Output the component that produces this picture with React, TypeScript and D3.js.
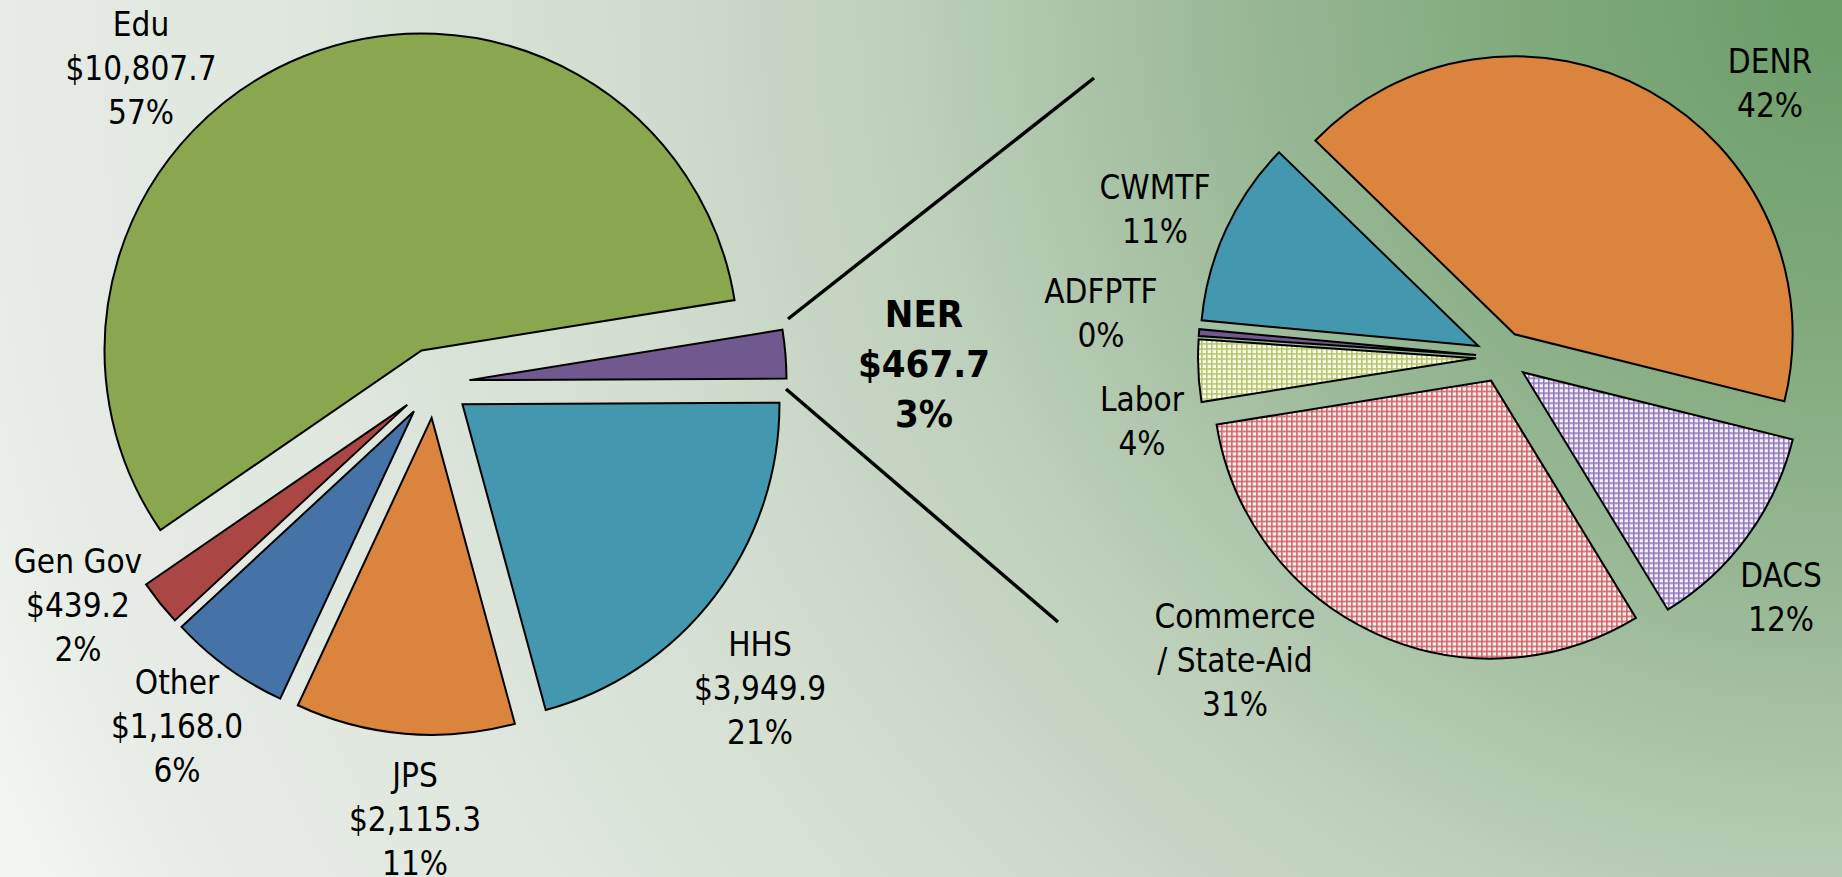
import React from "react";
import * as d3 from "d3";

const W = 1842;
const H = 877;

// ---- Data ----
const mainCategories = ["Edu", "NER", "HHS", "JPS", "Other", "Gen Gov"];
const mainValues = [10807.7, 467.7, 3949.9, 2115.3, 1168.0, 439.2];
const mainPctLabels = ["57%", "3%", "21%", "11%", "6%", "2%"];
const mainColors = ["#8AA64E", "#71588F", "#4398AF", "#DB843D", "#4572A7", "#AA4643"];

const nerCategories = ["DENR", "DACS", "Commerce / State-Aid", "Labor", "ADFPTF", "CWMTF"];
const nerShares = [41.6, 12.4, 31.2, 3.6, 0.4, 10.8];
const nerFills = ["#DB843D", "url(#gridPurple)", "url(#gridRed)", "url(#gridYellow)", "#71588F", "#4398AF"];

// ---- Layout ----
const FONT = "'DejaVu Sans Condensed', 'DejaVu Sans', sans-serif";
const LINE = 44;
const mainPie = { cx: 434.6, cy: 383, r: 317, explode: 35, start: 235.5 };
const nerPie = { cx: 1502, cy: 357, r: 278, explode: 26, start: 314.2 };
const mainLabelPos: Record<string, [number, number]> = {
  Edu: [141, 36],
  NER: [924, 327],
  HHS: [760, 656],
  JPS: [415, 787],
  Other: [177, 694],
  "Gen Gov": [78, 573],
};
const nerLabelPos: Record<string, [number, number]> = {
  DENR: [1770, 73],
  DACS: [1781, 587],
  "Commerce / State-Aid": [1235, 628],
  Labor: [1142, 411],
  ADFPTF: [1101, 303],
  CWMTF: [1155, 199],
};
const connectors = [
  [[788, 319], [1094, 78]],
  [[786, 389], [1058, 622]],
];

const deg = Math.PI / 180;

function explodedArcs(values: number[], cfg: typeof mainPie) {
  const pie = d3
    .pie<number>()
    .sort(null)
    .value((d) => d)
    .startAngle(cfg.start * deg)
    .endAngle(cfg.start * deg + 2 * Math.PI);
  const arc = d3.arc<d3.PieArcDatum<number>>().innerRadius(0).outerRadius(cfg.r);
  return pie(values).map((a) => {
    const mid = (a.startAngle + a.endAngle) / 2;
    const dx = cfg.cx + cfg.explode * Math.sin(mid);
    const dy = cfg.cy - cfg.explode * Math.cos(mid);
    return { a, path: arc(a) as string, dx, dy };
  });
}

function GridPattern({ id, line, cell }: { id: string; line: string; cell: string }) {
  return (
    <pattern id={id} width={5} height={5} patternUnits="userSpaceOnUse">
      <rect width={5} height={5} fill={line} />
      <rect x={1.6} y={1.6} width={3.4} height={3.4} fill={cell} />
    </pattern>
  );
}

export default function App() {
  const nerTotal = d3.sum(nerShares);
  const mainArcs = explodedArcs(mainValues, mainPie);
  const nerArcs = explodedArcs(nerShares, nerPie);
  const money = d3.format(",.1f");

  return (
    <svg
      width={W}
      height={H}
      style={{ position: "absolute", left: 0, top: 0, display: "block" }}
      fontFamily={FONT}
    >
      <defs>
        <radialGradient id="bg" gradientUnits="userSpaceOnUse" cx={W} cy={0} r={2050}>
          <stop offset="0" stopColor="#6b9d68" />
          <stop offset="0.15" stopColor="#7fa97b" />
          <stop offset="0.3" stopColor="#9ab997" />
          <stop offset="0.45" stopColor="#bccfb9" />
          <stop offset="0.6" stopColor="#d2ddcf" />
          <stop offset="0.75" stopColor="#dee6dd" />
          <stop offset="0.9" stopColor="#e7ece6" />
          <stop offset="1" stopColor="#f4f6f3" />
        </radialGradient>
        <GridPattern id="gridRed" line="#cc6467" cell="#fff0f0" />
        <GridPattern id="gridPurple" line="#9079b8" cell="#f6f0ff" />
        <GridPattern id="gridYellow" line="#b4c474" cell="#fbfde6" />
      </defs>
      <rect width={W} height={H} fill="url(#bg)" />

      {mainArcs.map((s, i) => (
        <path
          key={mainCategories[i]}
          d={s.path}
          transform={`translate(${s.dx},${s.dy})`}
          fill={mainColors[i]}
          stroke="#000"
          strokeWidth={2}
          strokeLinejoin="miter"
        />
      ))}

      {nerArcs.map((s, i) => (
        <path
          key={nerCategories[i]}
          d={s.path}
          transform={`translate(${s.dx},${s.dy})`}
          fill={nerFills[i]}
          stroke="#000"
          strokeWidth={2}
        />
      ))}

      {connectors.map((c, i) => (
        <line
          key={i}
          x1={c[0][0]}
          y1={c[0][1]}
          x2={c[1][0]}
          y2={c[1][1]}
          stroke="#000"
          strokeWidth={3.5}
        />
      ))}

      {mainCategories.map((name, i) => {
        const [x, y] = mainLabelPos[name];
        const bold = name === "NER";
        const lines = [name, "$" + money(mainValues[i]), mainPctLabels[i]];
        return (
          <text
            key={name}
            x={x}
            y={y}
            textAnchor="middle"
            fontSize={bold ? 38 : 33}
            fontWeight={bold ? "bold" : "normal"}
            fill="#000"
          >
            {lines.map((t, k) => (
              <tspan key={k} x={x} y={y + k * (bold ? 50 : LINE)}>
                {t}
              </tspan>
            ))}
          </text>
        );
      })}

      {nerCategories.map((name, i) => {
        const [x, y] = nerLabelPos[name];
        const parts = name.split(" / ");
        const nameLines = parts.length > 1 ? [parts[0], "/ " + parts[1]] : parts;
        const lines = [...nameLines, Math.round((nerShares[i] / nerTotal) * 100) + "%"];
        return (
          <text key={name} x={x} y={y} textAnchor="middle" fontSize={33} fill="#000">
            {lines.map((t, k) => (
              <tspan key={k} x={x} y={y + k * LINE}>
                {t}
              </tspan>
            ))}
          </text>
        );
      })}
    </svg>
  );
}
